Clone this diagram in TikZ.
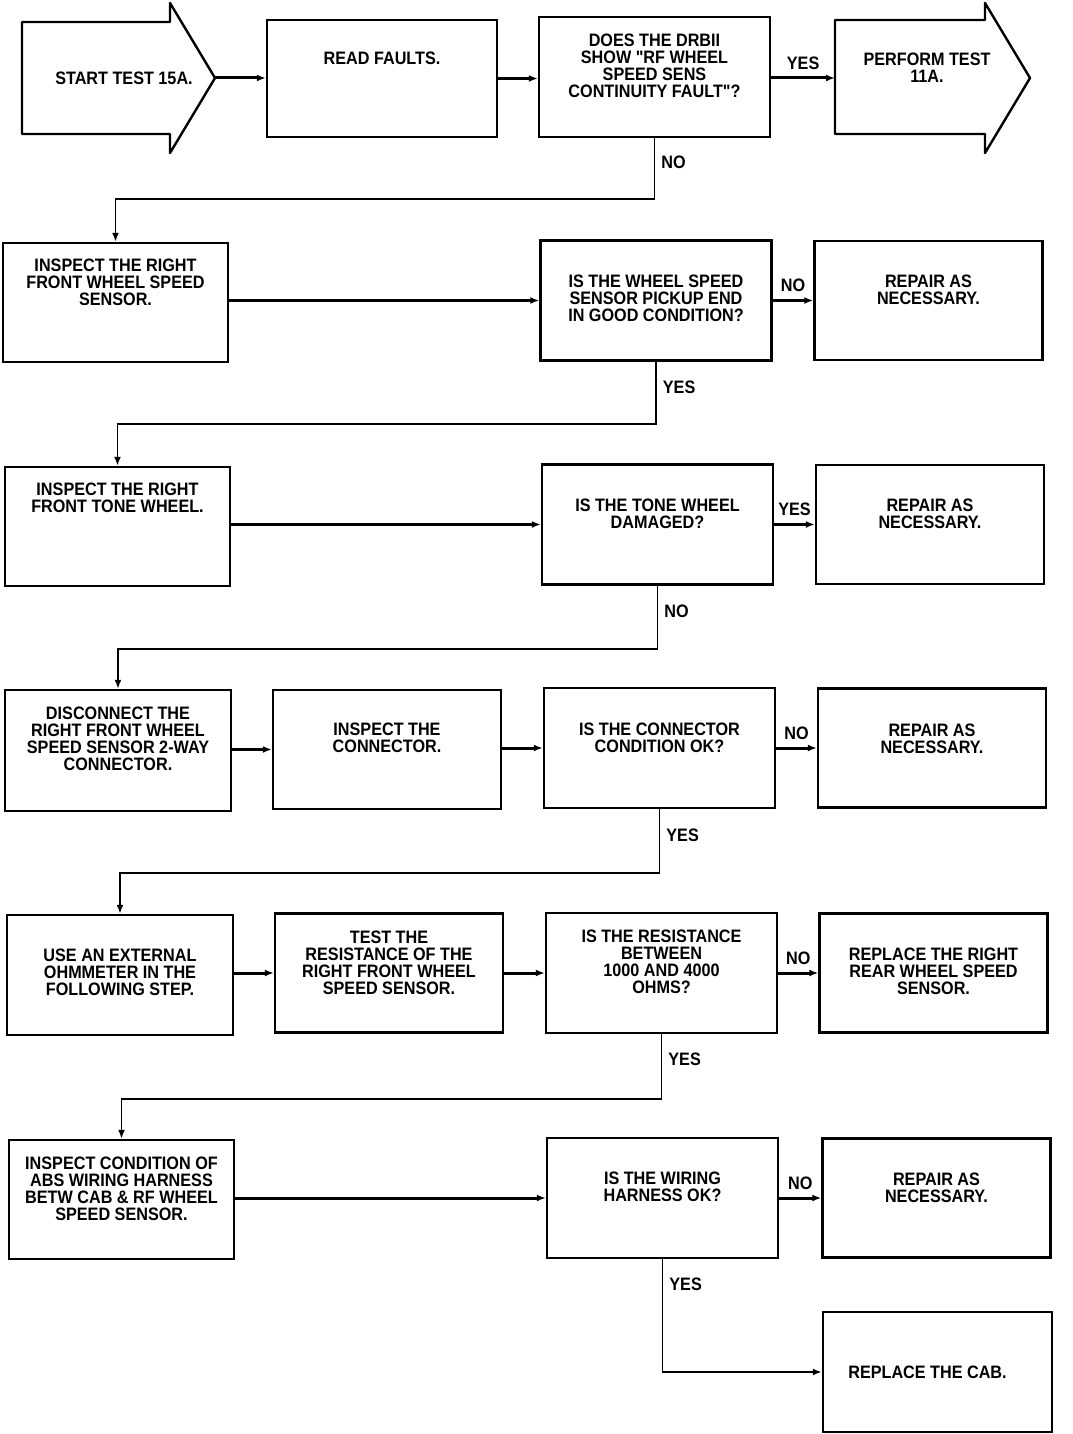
\documentclass[tikz,border=0pt]{standalone}
\usepackage{fontspec}
\newfontfamily\plotfont[FakeStretch=0.9]{Liberation Sans Bold}
\usetikzlibrary{arrows.meta, positioning}

\begin{document}
\begin{tikzpicture}[
    x=1pt, y=-1pt,
    box/.style={
      draw, 
      line width=2.4pt, 
      minimum width=228pt, 
      minimum height=119pt, 
      inner sep=0pt
    },
    query/.style={
      box, 
      minimum width=231pt, 
      minimum height=120pt
    },
    txt/.style={
      font=\plotfont\fontsize{18}{17}\selectfont, 
      align=center, 
      inner sep=0pt, 
      anchor=north
    },
    lbl/.style={
      font=\plotfont\fontsize{18}{17}\selectfont, 
      inner sep=2pt
    },
    flow/.style={
      -{Latex[length=9pt, width=7pt]}, 
      line width=3pt
    },
    route/.style={
      -{Latex[length=9pt, width=7pt]}, 
      line width=1.8pt
    }
]
\useasboundingbox (0,0) rectangle (1072,1434);

% Row 1: start
\draw [line width=2.4pt, line join=round] (22,22) -- (170,22) -- (170,3) -- (215,78) -- (170,153) -- (170,134) -- (22,134) -- cycle;
\node (start) [txt, anchor=center] at (124,78) {START TEST 15A.};
\coordinate (starttip) at (215,78);

\node (read) [box, minimum width=230pt, minimum height=117pt] at (382,78.5) {};
\node (readt) [txt] at ([yshift=-33pt]read.north) {READ FAULTS.};
\draw [flow] (starttip) -- (starttip -| read.west);

\node (drb) [query] at (654.5,77) {};
\node (drbt) [txt] at ([yshift=-18pt]drb.north) {DOES THE DRBII \\ SHOW "RF WHEEL \\ SPEED SENS \\ CONTINUITY FAULT"?};
\draw [flow] (read.east) -- (read.east -| drb.west);

% Perform test 11A
\draw [line width=2.4pt, line join=round] (835,20) -- (985,20) -- (985,3) -- (1030,78) -- (985,153) -- (985,134) -- (835,134) -- cycle;
\coordinate (performtail) at (835,78);
\node (perform) [txt] at (927,53) {PERFORM TEST \\ 11A.};
\draw [flow] (drb.east |- performtail) -- node[lbl, midway, above, yshift=5pt] {YES} (performtail);

% Row 2: wheel speed sensor
\node (insp1) [box, minimum width=225pt] at (115.5,302.5) {};
\node (insp1t) [txt] at ([yshift=-17pt]insp1.north) {INSPECT THE RIGHT \\ FRONT WHEEL SPEED \\ SENSOR.};
\draw [route] (drb.south) -- node[lbl, right, pos=0.4, xshift=4pt] {NO} ++(0,61) -| (insp1.north);

\node (pickup) [query] at (656,300.5) {};
\node (pickupt) [txt] at ([yshift=-35pt]pickup.north) {IS THE WHEEL SPEED \\ SENSOR PICKUP END \\ IN GOOD CONDITION?};
\draw [flow] (insp1.east |- pickup.west) -- (pickup.west);

\node (repair2) [box] at (928.5,300.5) {};
\node (repair2t) [txt] at ([yshift=-35pt]repair2.north) {REPAIR AS \\ NECESSARY.};
\draw [flow] (pickup.east) -- node[lbl, midway, above, yshift=5pt] {NO} (repair2.west);

% Row 3: tone wheel
\node (insp3) [box, minimum width=225pt] at (117.5,526.5) {};
\node (insp3t) [txt] at ([yshift=-17pt]insp3.north) {INSPECT THE RIGHT \\ FRONT TONE WHEEL.};
\draw [route] (pickup.south) -- node[lbl, right, pos=0.42, xshift=4pt] {YES} ++(0,62) -| (insp3.north);

\node (tone) [query] at (657.5,524.5) {};
\node (tonet) [txt] at ([yshift=-35pt]tone.north) {IS THE TONE WHEEL \\ DAMAGED?};
\draw [flow] (insp3.east |- tone.west) -- (tone.west);

\node (repair3) [box] at (930,524.5) {};
\node (repair3t) [txt] at ([yshift=-35pt]repair3.north) {REPAIR AS \\ NECESSARY.};
\draw [flow] (tone.east) -- node[lbl, midway, above, yshift=5pt] {YES} (repair3.west);

% Row 4: connector
\node (disc) [box, minimum width=226pt, minimum height=121pt] at (118,750.5) {};
\node (disct) [txt] at ([yshift=-18pt]disc.north) {DISCONNECT THE \\ RIGHT FRONT WHEEL \\ SPEED SENSOR 2-WAY \\ CONNECTOR.};
\draw [route] (tone.south) -- node[lbl, right, pos=0.41, xshift=4pt] {NO} ++(0,63) -| (disc.north);

\node (inspc) [box] at (387,749.5) {};
\node (inspct) [txt] at ([yshift=-34pt]inspc.north) {INSPECT THE \\ CONNECTOR.};
\draw [flow] (disc.east |- inspc.west) -- (inspc.west);

\node (conn) [query] at (659.5,748) {};
\node (connt) [txt] at ([yshift=-36pt]conn.north) {IS THE CONNECTOR \\ CONDITION OK?};
\draw [flow] (inspc.east |- conn.west) -- (conn.west);

\node (repair4) [box] at (932,748) {};
\node (repair4t) [txt] at ([yshift=-36pt]repair4.north) {REPAIR AS \\ NECESSARY.};
\draw [flow] (conn.east) -- node[lbl, midway, above, yshift=5pt] {NO} (repair4.west);

% Row 5: resistance
\node (ohm) [box, minimum width=226pt, minimum height=120pt] at (120,975) {};
\node (ohmt) [txt] at ([yshift=-35pt]ohm.north) {USE AN EXTERNAL \\ OHMMETER IN THE \\ FOLLOWING STEP.};
\draw [route] (conn.south) -- node[lbl, right, pos=0.4, xshift=4pt] {YES} ++(0,64) -| (ohm.north);

\node (resist) [box] at (389,973) {};
\node (resistt) [txt] at ([yshift=-18pt]resist.north) {TEST THE \\ RESISTANCE OF THE \\ RIGHT FRONT WHEEL \\ SPEED SENSOR.};
\draw [flow] (ohm.east |- resist.west) -- (resist.west);

\node (range) [query] at (661.5,973) {};
\node (ranget) [txt] at ([yshift=-18pt]range.north) {IS THE RESISTANCE \\ BETWEEN \\ 1000 AND 4000 \\ OHMS?};
\draw [flow] (resist.east) -- (range.west);

\node (sensor) [box] at (933.5,973) {};
\node (sensort) [txt] at ([yshift=-35pt]sensor.north) {REPLACE THE RIGHT \\ REAR WHEEL SPEED \\ SENSOR.};
\draw [flow] (range.east) -- node[lbl, midway, above, yshift=5pt] {NO} (sensor.west);

% Row 6: wiring harness
\node (harn) [box, minimum width=225pt] at (121.5,1199.5) {};
\node (harnt) [txt] at ([yshift=-18pt]harn.north) {INSPECT CONDITION OF \\ ABS WIRING HARNESS \\ BETW CAB \& RF WHEEL \\ SPEED SENSOR.};
\draw [route] (range.south) -- node[lbl, right, pos=0.38, xshift=4pt] {YES} ++(0,65) -| (harn.north);

\node (wiring) [query] at (662.5,1198) {};
\node (wiringt) [txt] at ([yshift=-35pt]wiring.north) {IS THE WIRING \\ HARNESS OK?};
\draw [flow] (harn.east |- wiring.west) -- (wiring.west);

\node (repair6) [box] at (936.5,1198) {};
\node (repair6t) [txt] at ([yshift=-35pt]repair6.north) {REPAIR AS \\ NECESSARY.};
\draw [flow] (wiring.east) -- node[lbl, midway, above, yshift=5pt] {NO} (repair6.west);

% Replace the CAB
\node (cab) [box, minimum width=229pt, minimum height=120pt] at (937.5,1372) {};
\node (cabt) [txt, anchor=center] at ([xshift=-10pt]cab.center) {REPLACE THE CAB.};
\draw [route] (wiring.south) |- node[lbl, right, pos=0.11, xshift=4pt] {YES} (cab.west);

\end{tikzpicture}
\end{document}
